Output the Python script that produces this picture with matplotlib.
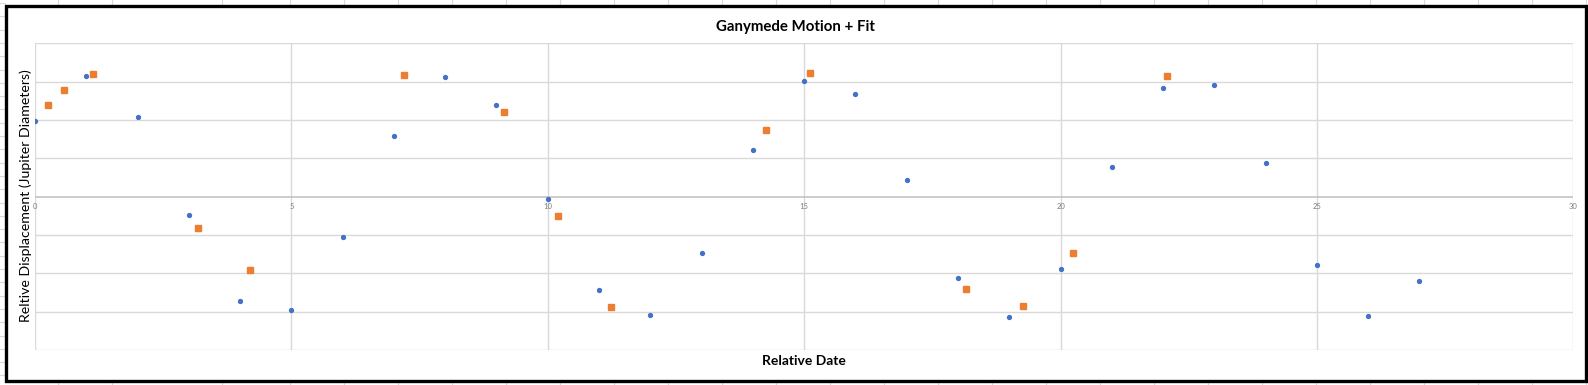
import matplotlib
matplotlib.use("Agg")
import matplotlib.pyplot as plt
from matplotlib.lines import Line2D
from matplotlib.patches import Rectangle

# Observed data (blue dots)
obs_x = list(range(28))
obs_y = [3.97, 6.32, 4.17, -0.97, -5.42, -5.93, -2.12, 3.18, 6.25, 4.79,
         -0.10, -4.88, -6.15, -2.95, 2.41, 6.04, 5.36, 0.85, -4.25, -6.28,
         -3.75, 1.53, 5.69, 5.80, 1.74, -3.54, -6.23, -4.41]

# Fit points (orange squares)
fit_x = [0.25, 0.56, 1.13, 3.18, 4.20, 7.19, 9.14, 10.20, 11.23, 14.25,
         15.11, 18.15, 19.26, 20.25, 22.07]
fit_y = [4.79, 5.54, 6.42, -1.65, -3.84, 6.37, 4.44, -0.99, -5.78, 3.49,
         6.47, -4.84, -5.71, -2.95, 6.27]

x_ticks = [0, 5, 10, 15, 20, 25, 30]
y_grid = [-8, -6, -4, -2, 0, 2, 4, 6, 8]

W, H = 1588, 385
fig = plt.figure(figsize=(W / 100, H / 100), dpi=100)
fig.patch.set_facecolor("white")

# spreadsheet cell lines outside the chart frame
cols = [58, 112, 222, 290] + [344 + 54 * k for k in range(24) if 344 + 54 * k < W]
for cx in cols:
    for (y0, y1) in [(0, 6), (381, 385)]:
        fig.add_artist(Line2D([cx / W, cx / W], [1 - y0 / H, 1 - y1 / H],
                              color="#dadada", lw=0.8, transform=fig.transFigure))
ry = 3.0
while ry < H:
    fig.add_artist(Line2D([0, 5 / W], [1 - ry / H, 1 - ry / H],
                          color="#dadada", lw=0.8, transform=fig.transFigure))
    ry += 13.3

# chart frame
fig.add_artist(Rectangle((6 / W, 1 - 381 / H), (1586 - 6) / W, (381 - 6) / H,
                         transform=fig.transFigure, fill=False,
                         edgecolor="black", lw=2.4, zorder=5))

left, right, top, bottom = 35, 1573.3, 43.3, 350
ax = fig.add_axes([left / W, 1 - bottom / H, (right - left) / W, (bottom - top) / H])
ax.set_xlim(0, 30)
ax.set_ylim(-8, 8)
for s in ax.spines.values():
    s.set_visible(False)

for gx in x_ticks:
    ax.axvline(gx, color="#d9d9d9", lw=1.0, zorder=0)
for gy in y_grid:
    if gy != 0:
        ax.axhline(gy, color="#d9d9d9", lw=1.0, zorder=0)
ax.axhline(0, color="#bfbfbf", lw=1.1, zorder=1)

ax.set_xticks([])
ax.set_yticks([])
for t in x_ticks:
    ax.text(t, -0.5, str(t), ha="center", va="center", fontsize=5.5,
            color="#7f7f7f", family="Lato")

ax.plot(obs_x, obs_y, linestyle="none", marker="o", ms=2.8,
        color="#4472c4", mec="#4472c4", zorder=3)
ax.plot(fit_x, fit_y, linestyle="none", marker="s", ms=4.2,
        color="#ed7d31", mec="#ed7d31", zorder=3)

fig.text(795 / W, 1 - 26.5 / H, "Ganymede Motion + Fit", ha="center", va="center",
         fontsize=10.8, fontweight="bold", family="Lato")
fig.text(804 / W, 1 - 361 / H, "Relative Date", ha="center", va="center",
         fontsize=10, fontweight="bold", family="Lato")
fig.text(26 / W, 1 - 196 / H, "Reltive Displacement (Jupiter Diameters)",
         ha="center", va="center", rotation=90, fontsize=10.2, family="Lato")

fig.savefig("out.png", dpi=100)
